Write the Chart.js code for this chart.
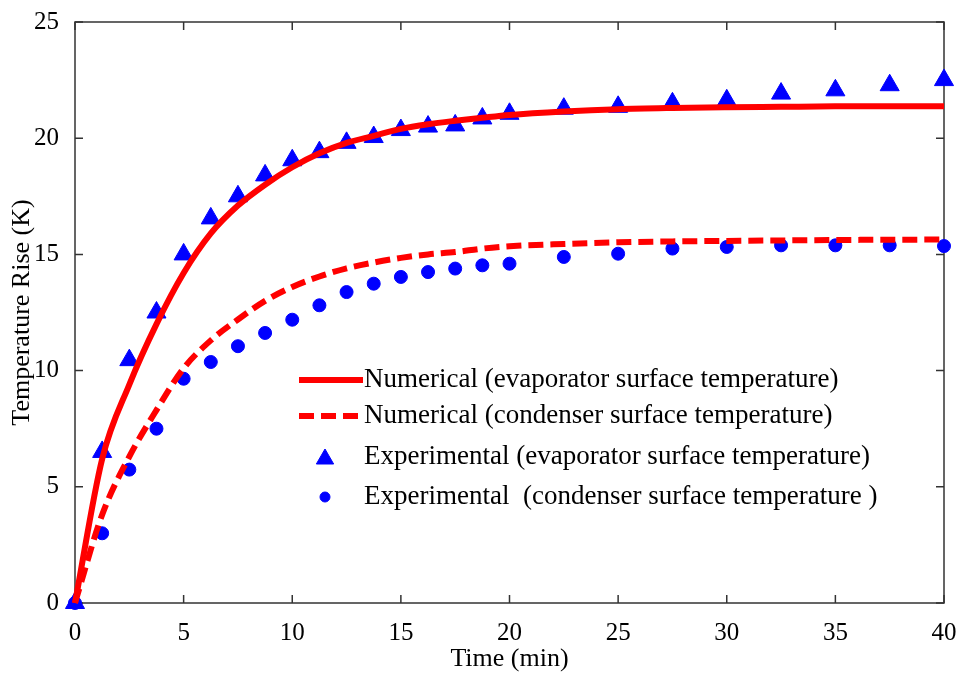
<!DOCTYPE html>
<html>
<head>
<meta charset="utf-8">
<script src="https://cdn.jsdelivr.net/npm/chart.js@4.4.1/dist/chart.umd.min.js"></script>
<style>
    html, body { margin: 0; padding: 0; background: #fff; }
</style>
</head>
<body>
<canvas id="tempChart" width="959" height="675"></canvas>
<script>
// Time axis (min) shared by all series
const timeMin = [0, 1.25, 2.5, 3.75, 5, 6.25, 7.5, 8.75, 10, 11.25, 12.5, 13.75, 15,
    16.25, 17.5, 18.75, 20, 22.5, 25, 27.5, 30, 32.5, 35, 37.5, 40];

// Temperature rise (K)
const numEvaporator = [0, 6.2, 9.4, 12.0, 14.2, 15.9, 17.1, 18.0, 18.75, 19.35, 19.8, 20.1, 20.4,
    20.6, 20.75, 20.88, 21.0, 21.15, 21.25, 21.3, 21.33, 21.35, 21.37, 21.37, 21.37];
const numCondenser = [0, 3.8, 6.3, 8.3, 10.1, 11.3, 12.2, 13.0, 13.6, 14.05, 14.4, 14.65, 14.85,
    15.0, 15.1, 15.25, 15.35, 15.45, 15.52, 15.56, 15.58, 15.6, 15.62, 15.63, 15.64];
const expEvaporator = [0, 6.5, 10.45, 12.5, 15.0, 16.55, 17.5, 18.4, 19.05, 19.4, 19.8, 20.05, 20.35,
    20.5, 20.55, 20.85, 21.05, 21.27, 21.35, 21.5, 21.63, 21.92, 22.06, 22.28, 22.5];
const expCondenser = [0, 3.0, 5.74, 7.5, 9.65, 10.37, 11.05, 11.62, 12.19, 12.81, 13.38, 13.74, 14.03,
    14.24, 14.39, 14.53, 14.6, 14.89, 15.03, 15.25, 15.32, 15.39, 15.39, 15.39, 15.36];

const seriesLabels = [
    'Numerical (evaporator surface temperature)',
    'Numerical (condenser surface temperature)',
    'Experimental (evaporator surface temperature)',
    'Experimental  (condenser surface temperature )'
];

const xTitle = 'Time (min)';
const yTitle = 'Temperature Rise (K)';

const FONT = '"Liberation Serif", "Times New Roman", serif';
const RED = '#ff0000';
const BLUE = '#0000ff';
const AXIS = '#333333';

const toPoints = (ys) => timeMin.map((t, i) => ({ x: t, y: ys[i] }));

// Box frame with inward ticks on all four sides
const framePlugin = {
    id: 'frame',
    beforeDatasetsDraw(chart) {
        const { ctx, chartArea: a, scales: { x, y } } = chart;
        const len = 8;
        ctx.save();
        ctx.strokeStyle = AXIS;
        ctx.lineWidth = 1.5;
        ctx.strokeRect(a.left, a.top, a.right - a.left, a.bottom - a.top);
        ctx.beginPath();
        x.ticks.forEach(t => {
            const px = x.getPixelForValue(t.value);
            ctx.moveTo(px, a.bottom); ctx.lineTo(px, a.bottom - len);
            ctx.moveTo(px, a.top); ctx.lineTo(px, a.top + len);
        });
        y.ticks.forEach(t => {
            const py = y.getPixelForValue(t.value);
            ctx.moveTo(a.left, py); ctx.lineTo(a.left + len, py);
            ctx.moveTo(a.right, py); ctx.lineTo(a.right - len, py);
        });
        ctx.stroke();
        ctx.restore();
    }
};

// Legend drawn inside the plot area
const legendPlugin = {
    id: 'innerLegend',
    afterDatasetsDraw(chart) {
        const { ctx } = chart;
        const rows = [380, 416, 457, 497];
        const textX = 364;
        ctx.save();
        ctx.font = '27px ' + FONT;
        ctx.fillStyle = '#000';
        ctx.textBaseline = 'middle';
        chart.data.datasets.forEach((ds, i) => {
            const yRow = rows[i];
            if (ds.showLine) {
                ctx.save();
                ctx.strokeStyle = ds.borderColor;
                ctx.lineWidth = ds.borderWidth;
                ctx.setLineDash(ds.borderDash || []);
                ctx.beginPath();
                ctx.moveTo(299, yRow);
                ctx.lineTo(363, yRow);
                ctx.stroke();
                ctx.restore();
            } else {
                ctx.save();
                ctx.fillStyle = ds.pointBackgroundColor;
                ctx.strokeStyle = ds.pointBorderColor;
                Chart.helpers.drawPoint(ctx, {
                    pointStyle: ds.pointStyle,
                    radius: ds.legendRadius,
                    rotation: 0,
                    borderWidth: 1
                }, 325, yRow + (ds.pointStyle === 'triangle' ? 2 : 0));
                ctx.restore();
            }
            ctx.fillStyle = '#000';
            ctx.fillText(ds.label, textX, yRow);
        });
        ctx.restore();
    }
};

new Chart(document.getElementById('tempChart'), {
    type: 'scatter',
    data: {
        datasets: [
            {
                label: seriesLabels[0],
                data: toPoints(numEvaporator),
                showLine: true,
                borderColor: RED,
                borderWidth: 6,
                pointRadius: 0,
                cubicInterpolationMode: 'monotone',
                clip: false
            },
            {
                label: seriesLabels[1],
                data: toPoints(numCondenser),
                showLine: true,
                borderColor: RED,
                borderWidth: 6,
                borderDash: [15, 7],
                pointRadius: 0,
                cubicInterpolationMode: 'monotone',
                clip: false
            },
            {
                label: seriesLabels[2],
                data: toPoints(expEvaporator),
                showLine: false,
                pointStyle: 'triangle',
                pointRadius: 11,
                legendRadius: 10,
                pointBackgroundColor: BLUE,
                pointBorderColor: BLUE,
                pointBorderWidth: 1,
                clip: false
            },
            {
                label: seriesLabels[3],
                data: toPoints(expCondenser),
                showLine: false,
                pointStyle: 'circle',
                pointRadius: 6.5,
                legendRadius: 5,
                pointBackgroundColor: BLUE,
                pointBorderColor: BLUE,
                pointBorderWidth: 1,
                clip: false
            }
        ]
    },
    options: {
        responsive: false,
        animation: false,
        layout: { padding: { top: 22, right: 15, left: 0, bottom: 0 } },
        plugins: {
            legend: { display: false },
            tooltip: { enabled: false }
        },
        scales: {
            x: {
                type: 'linear',
                min: 0,
                max: 40,
                grid: { display: false },
                border: { display: false },
                ticks: {
                    stepSize: 5,
                    color: '#000',
                    padding: 7,
                    font: { family: FONT, size: 25 }
                },
                title: {
                    display: true,
                    text: xTitle,
                    color: '#000',
                    padding: { top: 0, bottom: 0 },
                    font: { family: FONT, size: 26 }
                },
                afterFit(scale) {
                    scale.height = 72;
                    scale.paddingLeft = 0;
                    scale.paddingRight = 0;
                }
            },
            y: {
                min: 0,
                max: 25,
                grid: { display: false },
                border: { display: false },
                ticks: {
                    stepSize: 5,
                    color: '#000',
                    padding: 8,
                    font: { family: FONT, size: 25 }
                },
                title: {
                    display: true,
                    text: yTitle,
                    color: '#000',
                    padding: { top: 7, bottom: 0 },
                    font: { family: FONT, size: 26 }
                },
                afterFit(scale) {
                    scale.width = 75;
                    scale.paddingTop = 0;
                    scale.paddingBottom = 0;
                }
            }
        }
    },
    plugins: [framePlugin, legendPlugin]
});
</script>
</body>
</html>
